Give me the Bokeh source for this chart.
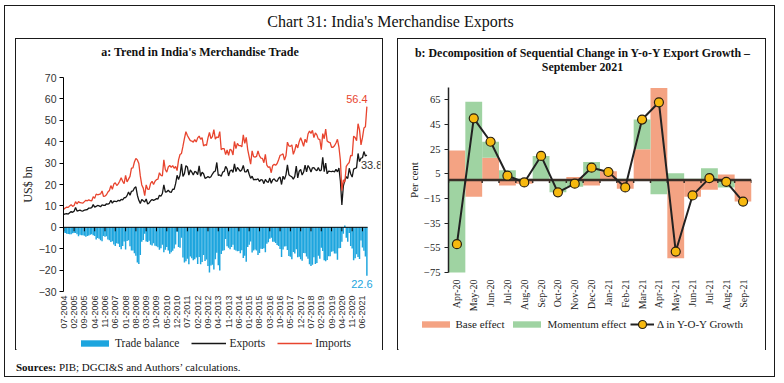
import numpy as np
from bokeh.plotting import figure
from bokeh.models import (Range1d, FixedTicker, Legend, LegendItem, Label, Div, Spacer,
                          Column, Row)
from bokeh.embed import file_html
from bokeh.resources import INLINE

# ---------------- Panel a data: monthly, 07-2004 .. 09-2021 (US$ bn) ----------------
exports = [
    6.0, 6.3, 6.4, 6.2, 6.8, 7.4,                                        # 2004 (Jul-Dec)
    7.0, 7.5, 9.3, 7.6, 7.8, 8.0, 7.7, 7.6, 8.0, 8.2, 8.3, 9.0,          # 2005
    9.0, 9.2, 10.6, 9.4, 9.8, 10.2, 10.0, 9.6, 10.5, 10.3, 10.2, 11.0,   # 2006
    10.8, 11.2, 12.6, 11.3, 12.2, 12.1, 12.0, 12.6, 12.3, 13.0, 12.8, 13.8,  # 2007
    13.9, 14.8, 16.5, 15.0, 16.8, 17.0, 18.4, 18.9, 15.0, 12.6, 11.1, 13.0,  # 2008
    12.4, 11.8, 13.2, 10.9, 11.4, 12.4, 13.0, 12.6, 12.9, 13.4, 13.2, 15.0,  # 2009
    14.5, 15.8, 19.8, 16.5, 16.6, 17.4, 16.5, 16.3, 17.8, 17.7, 20.4, 24.3,  # 2010
    22.3, 24.4, 29.6, 23.8, 25.1, 28.8, 28.2, 24.4, 26.8, 25.8, 24.4, 26.1,  # 2011
    25.8, 24.6, 28.7, 23.8, 25.7, 25.0, 22.9, 23.2, 23.7, 23.2, 23.6, 24.9,  # 2012
    25.9, 26.3, 30.3, 24.2, 24.5, 23.8, 25.8, 26.1, 28.5, 27.3, 24.0, 26.3,  # 2013
    26.8, 25.7, 29.6, 26.0, 28.0, 27.1, 26.1, 26.9, 28.9, 25.9, 25.9, 27.1,  # 2014
    24.8, 22.9, 23.9, 22.2, 22.4, 22.3, 22.7, 21.4, 22.3, 22.1, 20.4, 22.4,  # 2015
    21.3, 21.0, 23.0, 20.6, 22.2, 22.6, 21.7, 21.5, 22.9, 23.5, 20.0, 23.9,  # 2016
    22.4, 24.5, 29.2, 24.6, 24.0, 23.6, 22.5, 23.8, 28.6, 23.1, 26.2, 27.0,  # 2017
    24.4, 25.8, 29.1, 25.9, 28.9, 27.7, 25.8, 27.8, 27.9, 26.9, 26.5, 27.9,  # 2018
    26.4, 26.7, 32.7, 26.0, 30.0, 25.0, 26.3, 26.1, 26.0, 26.2, 25.9, 27.1,  # 2019
    25.9, 27.7, 21.5, 10.4, 19.2, 21.9, 23.6, 22.8, 27.6, 24.9, 23.5, 27.2,  # 2020
    27.5, 27.9, 34.5, 30.7, 32.3, 32.5, 35.4, 33.3, 33.8,                    # 2021 (Jan-Sep)
]
imports = [
    8.5, 9.0, 9.4, 9.3, 10.0, 10.6,
    9.8, 10.2, 12.0, 10.9, 12.0, 11.5, 11.4, 11.3, 12.0, 12.6, 12.4, 12.8,
    12.5, 12.4, 14.3, 13.5, 15.5, 15.2, 15.4, 15.6, 17.0, 14.4, 14.6, 15.2,
    16.5, 17.2, 19.5, 17.8, 20.2, 20.8, 19.5, 20.3, 21.5, 23.2, 21.5, 20.4,
    24.3, 21.2, 22.5, 23.8, 27.6, 27.8, 30.5, 32.2, 31.5, 29.8, 24.0, 19.8,
    18.3, 14.8, 19.8, 17.8, 17.7, 20.5, 21.5, 20.0, 21.5, 22.3, 22.5, 25.5,
    24.3, 24.0, 31.5, 27.0, 25.8, 28.2, 28.9, 28.0, 28.8, 27.6, 28.4, 26.5,
    31.5, 34.0, 34.5, 37.9, 41.5, 44.7, 42.9, 41.7, 40.5, 40.3, 39.8, 41.0,
    39.9, 41.8, 42.6, 41.1, 41.9, 38.0, 38.6, 38.3, 41.8, 44.3, 41.5, 42.4,
    45.6, 41.2, 42.2, 41.9, 44.7, 36.3, 36.8, 36.8, 34.0, 36.1, 33.6, 36.5,
    36.0, 33.8, 40.1, 36.8, 39.2, 38.2, 38.2, 37.6, 43.2, 39.2, 42.0, 36.3,
    32.9, 29.5, 35.7, 33.0, 32.8, 33.1, 35.7, 33.4, 32.3, 32.2, 30.2, 34.1,
    29.0, 28.0, 28.3, 25.5, 28.9, 29.4, 29.0, 29.8, 31.6, 33.6, 33.9, 34.3,
    31.4, 33.4, 39.8, 38.0, 37.8, 38.5, 34.1, 36.0, 38.8, 37.1, 40.0, 41.9,
    40.0, 37.8, 41.2, 39.6, 43.6, 45.0, 43.9, 45.3, 41.9, 44.1, 43.2, 41.2,
    41.1, 36.3, 43.8, 41.4, 45.9, 40.3, 39.8, 39.6, 37.4, 37.4, 38.1, 39.4,
    41.1, 37.5, 31.2, 17.1, 22.2, 21.1, 28.5, 29.5, 30.3, 33.6, 33.4, 42.6,
    42.0, 40.5, 48.4, 45.5, 38.5, 41.9, 46.4, 47.0, 56.4,
]
tick_labels_a = ["07-2004", "02-2005", "09-2005", "04-2006", "11-2006", "06-2007",
                 "01-2008", "08-2008", "03-2009", "10-2009", "05-2010", "12-2010",
                 "07-2011", "02-2012", "09-2012", "04-2013", "11-2013", "06-2014",
                 "01-2015", "08-2015", "03-2016", "10-2016", "05-2017", "12-2017",
                 "07-2018", "02-2019", "09-2019", "04-2020", "11-2020", "06-2021"]
tick_step_months = 7
y_ticks_a = [-30, -20, -10, 0, 10, 20, 30, 40, 50, 60, 70]

# ---------------- Panel b data ----------------
months_b = ["Apr-20", "May-20", "Jun-20", "Jul-20", "Aug-20", "Sep-20", "Oct-20", "Nov-20",
            "Dec-20", "Jan-21", "Feb-21", "Mar-21", "Apr-21", "May-21", "Jun-21", "Jul-21",
            "Aug-21", "Sep-21"]
base_effect = [24.0, -13.5, 18.0, -4.5, -3.0, 0.5, 0.0, 2.5, -4.5, 7.0, -7.0, 25.0,
               74.5, -63.5, -13.5, -8.0, 4.5, -17.5]
momentum_effect = [-76.0, 63.5, 13.0, 8.0, 1.0, 19.0, -10.0, -5.5, 14.5, -0.5, 1.0, 24.0,
                   -11.5, 5.5, 1.0, 9.5, -6.0, 0.0]
delta_growth = [-52.0, 50.0, 31.0, 3.5, -2.0, 19.5, -10.0, -3.0, 10.0, 6.5, -6.0, 49.0,
                63.0, -58.0, -12.5, 1.5, -1.5, -17.5]
y_ticks_b = [-75, -55, -35, -15, 5, 25, 45, 65]

SERIF = "Liberation Serif"
SANS = "Liberation Sans"
BLUE = "#1DA5DE"
RED = "#E8442E"
BLACK = "#161616"
SALMON = "#F4A383"
GREEN = "#9FD3A2"
GOLD = "#F7B90F"
DARK = "#3a2f28"
FRAME = "1px solid #1a1a1a"
NAN = [float("nan")]


def html_div(html, w, h):
    return Div(text=html, width=w, height=h, margin=0)


def legend_fig(w, h):
    f = figure(width=w, height=h, output_backend="svg", toolbar_location=None,
               x_range=Range1d(0, 1), y_range=Range1d(0, 1),
               x_axis_location=None, y_axis_location=None,
               min_border_left=0, min_border_right=0, min_border_top=0, min_border_bottom=0,
               margin=0, frame_align=False)
    f.grid.visible = False
    f.outline_line_color = None
    return f


def style_axis(ax, font, size, color):
    ax.major_label_text_font = font
    ax.major_label_text_font_size = size
    ax.major_label_text_color = color
    ax.minor_tick_line_color = None


# ======================= Panel a =======================
n = len(exports)
idx = np.arange(n)
balance = np.round(np.array(exports) - np.array(imports), 1)

A_IN_W = 368
A_TITLE_H, A_FIG_H, A_LEG_H = 26, 269, 17
X0_A = -0.2
PX_PER_MONTH = 305.0 / (n - 1)
A_FRAME_W = A_IN_W - 47 - 2
pa = figure(width=A_IN_W, height=A_FIG_H, output_backend="svg", toolbar_location=None,
            x_range=Range1d(X0_A, X0_A + A_FRAME_W / PX_PER_MONTH), y_range=Range1d(-30, 70),
            min_border_left=47, min_border_right=2, min_border_top=12, min_border_bottom=43,
            margin=0, frame_align=False)
pa.grid.visible = False
pa.outline_line_color = None

pa.vbar(x=idx, top=balance, bottom=0, width=1.0, fill_color=BLUE, line_color=None)
pa.segment(x0=[X0_A], y0=[0], x1=[n - 0.5], y1=[0], line_color="#000", line_width=1)
tick_pos_a = [i * tick_step_months for i in range(len(tick_labels_a))]
tick_len_a = 4.0 * 100 / 214
pa.segment(x0=tick_pos_a, y0=[0] * len(tick_pos_a), x1=tick_pos_a,
           y1=[-tick_len_a] * len(tick_pos_a), line_color="#000", line_width=1)
pa.line(idx, exports, line_color=BLACK, line_width=1.3)
pa.line(idx, imports, line_color=RED, line_width=1.3)

ya = pa.yaxis[0]
ya.ticker = FixedTicker(ticks=y_ticks_a)
style_axis(ya, SANS, "10.5px", "#333")
ya.major_tick_out = 4
ya.major_tick_in = 0
ya.axis_line_color = "#000"
ya.major_tick_line_color = "#000"
ya.major_label_standoff = 3
ya.axis_label = "US$ bn"
ya.axis_label_text_font = SERIF
ya.axis_label_text_font_style = "normal"
ya.axis_label_text_font_size = "12px"
ya.axis_label_text_color = "#222"
ya.axis_label_standoff = 1

xa = pa.xaxis[0]
xa.ticker = FixedTicker(ticks=tick_pos_a)
xa.major_label_overrides = {p: lab for p, lab in zip(tick_pos_a, tick_labels_a)}
xa.major_label_orientation = np.pi / 2
style_axis(xa, SANS, "9px", "#333")
xa.major_label_standoff = 4
xa.major_tick_out = 0
xa.major_tick_in = 0
xa.axis_line_color = None
xa.major_tick_line_color = None

pa.add_layout(Label(x=n - 1, y=imports[-1], text=f"{imports[-1]}", x_offset=-10, y_offset=4,
                    text_align="center", text_baseline="bottom", text_font=SANS,
                    text_font_size="11px", text_color=RED))
pa.add_layout(Label(x=n - 1, y=exports[-1], text=f"{exports[-1]}", x_offset=-6, y_offset=-10,
                    text_align="left", text_baseline="middle", text_font=SANS,
                    text_font_size="11px", text_color="#333"))
pa.add_layout(Label(x=n - 1, y=float(balance[-1]), text=f"{abs(balance[-1])}", x_offset=-5,
                    y_offset=-8, text_align="center", text_baseline="middle", text_font=SANS,
                    text_font_size="11px", text_color=BLUE))

la = legend_fig(A_IN_W, A_LEG_H)
la_bal = la.vbar(x=NAN, top=NAN, width=1, fill_color=BLUE, line_color=None)
la_exp = la.line(NAN, NAN, line_color=BLACK, line_width=1.6)
la_imp = la.line(NAN, NAN, line_color=RED, line_width=1.6)
la.add_layout(Legend(items=[LegendItem(label="Trade balance", renderers=[la_bal]),
                            LegendItem(label="Exports", renderers=[la_exp]),
                            LegendItem(label="Imports", renderers=[la_imp])],
                     orientation="horizontal", location=(61, 0), glyph_width=35,
                     glyph_height=8, label_standoff=3, spacing=12, padding=0, margin=0,
                     label_height=16, border_line_color=None, background_fill_alpha=0,
                     label_text_font=SERIF, label_text_font_size="11.5px",
                     label_text_color="#222"))

title_a = html_div('<div style="width:368px;text-align:center;font-family:\'Liberation Serif\';'
                   'font-weight:bold;font-size:12px;line-height:14px;padding-top:6px;color:#111;">'
                   "a: Trend in India's Merchandise Trade</div>", A_IN_W, A_TITLE_H)
panel_a = Column(children=[title_a, pa, la], width=A_IN_W, height=A_TITLE_H + A_FIG_H + A_LEG_H,
                 margin=0, styles={"border": FRAME})

# ======================= Panel b =======================
nb = len(months_b)
xb = np.arange(nb) + 0.5
base = np.array(base_effect)
mom = np.array(momentum_effect)
mom_bot = np.where(mom >= 0, np.maximum(base, 0), np.minimum(base, 0))
mom_top = mom_bot + mom

B_IN_W = 369
B_TITLE_H, B_FIG_H, B_LEG_H = 38, 237, 37
pb = figure(width=B_IN_W, height=B_FIG_H, output_backend="svg", toolbar_location=None,
            x_range=Range1d(0, nb), y_range=Range1d(-75, 75),
            min_border_left=50, min_border_right=14, min_border_top=10, min_border_bottom=41,
            margin=0, frame_align=False)
pb.grid.visible = False
pb.outline_line_color = None

pb.vbar(x=xb, top=base, bottom=0, width=1.0, fill_color=SALMON, line_color=None)
pb.vbar(x=xb, top=mom_top, bottom=mom_bot, width=1.0, fill_color=GREEN, line_color=None)
bounds_b = list(range(0, nb + 1))
tick_len_b = 3.0 * 150 / 186
pb.segment(x0=bounds_b, y0=[0] * len(bounds_b), x1=bounds_b, y1=[-tick_len_b] * len(bounds_b),
           line_color=DARK, line_width=1.5)
pb.segment(x0=[0], y0=[0], x1=[nb], y1=[0], line_color=DARK, line_width=2.5)
pb.line(xb, delta_growth, line_color="#222", line_width=2)
pb.scatter(xb, delta_growth, size=9, fill_color=GOLD, line_color="#2a2010", line_width=1.2)

yb = pb.yaxis[0]
yb.ticker = FixedTicker(ticks=y_ticks_b)
style_axis(yb, SERIF, "10.5px", "#222")
yb.major_tick_out = 4
yb.major_tick_in = 0
yb.axis_line_color = "#222"
yb.axis_line_width = 1.5
yb.major_tick_line_color = "#222"
yb.major_label_standoff = 4
yb.axis_label = "Per cent"
yb.axis_label_text_font = SERIF
yb.axis_label_text_font_style = "normal"
yb.axis_label_text_font_size = "11px"
yb.axis_label_text_color = "#222"
yb.axis_label_standoff = 1

xbx = pb.xaxis[0]
xbx.ticker = FixedTicker(ticks=[float(v) for v in xb])
xbx.major_label_overrides = {float(v): m for v, m in zip(xb, months_b)}
xbx.major_label_orientation = np.pi / 2
style_axis(xbx, SERIF, "10px", "#222")
xbx.major_label_standoff = 7
xbx.major_tick_out = 0
xbx.major_tick_in = 0
xbx.axis_line_color = None
xbx.major_tick_line_color = None

lb = legend_fig(B_IN_W, B_LEG_H)
lb_base = lb.vbar(x=NAN, top=NAN, width=1, fill_color=SALMON, line_color=None)
lb_mom = lb.vbar(x=NAN, top=NAN, width=1, fill_color=GREEN, line_color=None)
lb_line = lb.line(NAN, NAN, line_color="#222", line_width=2)
lb_pts = lb.scatter(NAN, NAN, fill_color=GOLD, line_color="#2a2010", line_width=1.2)
common = dict(orientation="horizontal", label_standoff=3, padding=0, margin=0, label_height=16,
              border_line_color=None, background_fill_alpha=0, label_text_font=SERIF,
              label_text_font_size="11px", label_text_color="#222")
lb.add_layout(Legend(items=[LegendItem(label="Base effect", renderers=[lb_base]),
                            LegendItem(label="Momentum effect", renderers=[lb_mom])],
                     location=(19.5, 19), glyph_width=35, glyph_height=8,
                     spacing=5, **common))
lb.add_layout(Legend(items=[LegendItem(label="\u0394 in Y-O-Y Growth", renderers=[lb_line, lb_pts])],
                     location=(232, 17), glyph_width=24, glyph_height=20,
                     spacing=0, **common))

title_b = html_div('<div style="width:369px;text-align:center;font-family:\'Liberation Serif\';'
                   'font-weight:bold;font-size:11.9px;line-height:14px;padding-top:7px;color:#111;">'
                   'b: Decomposition of Sequential Change in Y-o-Y Export Growth \u2013<br>'
                   'September 2021</div>', B_IN_W, B_TITLE_H)
panel_b = Column(children=[title_b, pb, lb], width=B_IN_W, height=B_TITLE_H + B_FIG_H + B_LEG_H,
                 margin=0, styles={"border": FRAME})

# ======================= Page =======================
OUT_W, OUT_H = 771, 372
title_div = html_div('<div style="width:771px;text-align:center;font-family:\'Liberation Serif\';'
                     'font-size:16px;line-height:20px;padding-top:6px;color:#111;">'
                     "Chart 31: India's Merchandise Exports</div>", OUT_W, 32)
src_div = html_div('<div style="font-family:\'Liberation Serif\';font-size:11px;line-height:14px;'
                   'color:#111;padding:8px 0 0 11px;"><b>Sources:</b> PIB; DGCI&amp;S and '
                   'Authors\u2019 calculations.</div>', OUT_W, 26)
mid = Row(children=[Spacer(width=10, height=314, margin=0), panel_a,
                    Spacer(width=14, height=314, margin=0), panel_b],
          width=OUT_W, height=314, margin=0)
outer = Column(children=[title_div, mid, src_div], width=OUT_W, height=OUT_H, margin=0,
               styles={"border": FRAME})
root = Column(children=[Spacer(width=775, height=5, margin=0),
                        Row(children=[Spacer(width=4, height=374, margin=0), outer],
                            width=777, height=374, margin=0)],
              width=777, height=379, margin=0)

open("out.html", "w").write(file_html(root, INLINE))
